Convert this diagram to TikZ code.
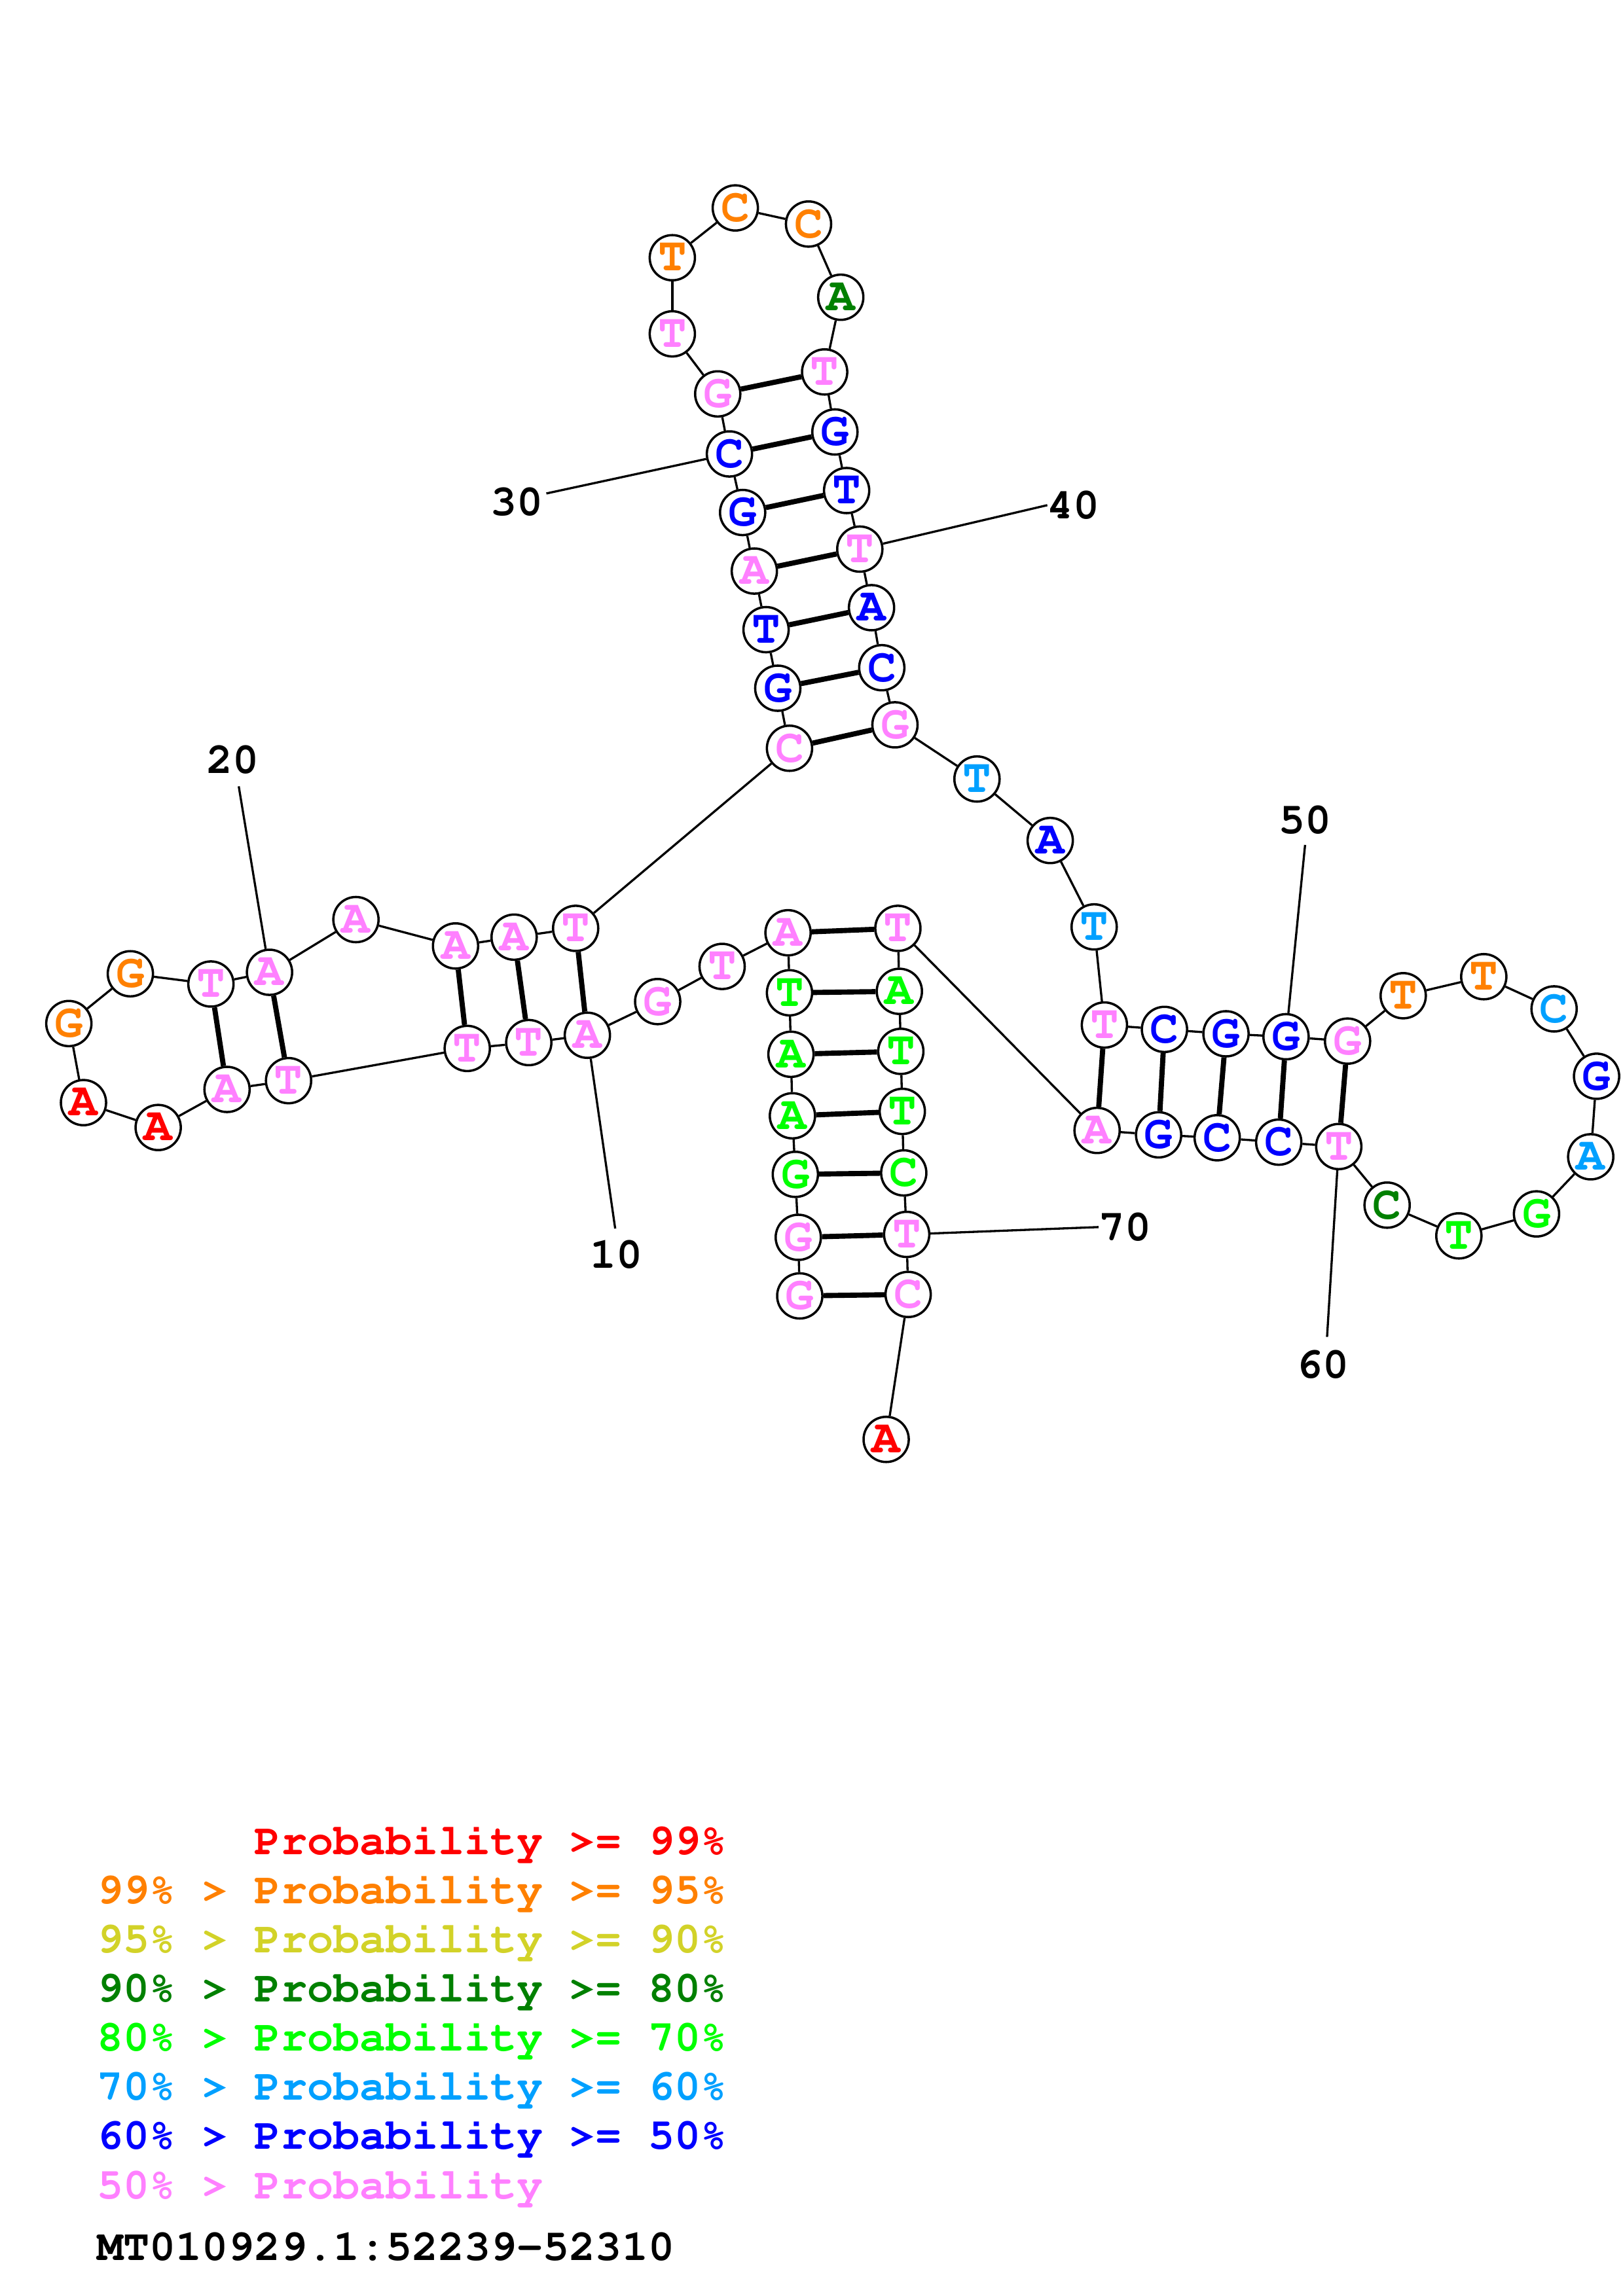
\documentclass[tikz,border=0pt]{standalone}
\usepackage[T1]{fontenc}
\newcommand\courb{\fontencoding{T1}\fontfamily{pcr}\fontseries{b}\fontshape{n}\fontsize{16.1}{19}\selectfont}
\newcommand\courn{\fontencoding{T1}\fontfamily{pcr}\fontseries{b}\fontshape{n}\fontsize{17.5}{20}\selectfont}
\definecolor{pR}{RGB}{255,0,0}
\definecolor{pO}{RGB}{255,128,0}
\definecolor{pY}{RGB}{210,210,40}
\definecolor{pD}{RGB}{0,128,0}
\definecolor{pG}{RGB}{0,255,0}
\definecolor{pS}{RGB}{0,160,255}
\definecolor{pB}{RGB}{0,0,255}
\definecolor{pP}{RGB}{255,128,255}
\tikzset{
  nt/.style={circle, draw, line width=0.85pt, fill=white, minimum size=5.85mm, inner sep=0pt, font=\courn},
  bb/.style={line width=0.8pt},
  bp/.style={line width=1.9pt},
  numlab/.style={inner sep=0pt, font=\courb},
  leg/.style={inner sep=0pt, anchor=base west, font=\courb}
}
\begin{document}
\begin{tikzpicture}[x=0.18953mm, y=-0.18953mm]
\useasboundingbox[fill=white] (0,0) rectangle (1108,1568);
\foreach \i/\x/\y/\l/\c in {
1/546/885/G/pP, 2/545/845/G/pP, 3/543/802/G/pG, 4/541/762/A/pG, 5/540/720/A/pG,
6/539/678/T/pG, 7/538/637/A/pP, 8/493/660/T/pP, 9/449/684/G/pP, 10/401/707/A/pP,
11/361/712/T/pP, 12/319/716/T/pP, 13/197/738/T/pP, 14/155/744/A/pP, 15/108/770/A/pR,
16/57/753/A/pR, 17/47/699/G/pO, 18/89/665/G/pO, 19/144/672/T/pP, 20/184/664/A/pP,
21/243/628/A/pP, 22/311/646/A/pP, 23/351/640/A/pP, 24/393/634/T/pP, 25/539/511/C/pP,
26/531/470/G/pB, 27/523/430/T/pB, 28/515/390/A/pP, 29/507/350/G/pB, 30/498/310/C/pB,
31/490/269/G/pP, 32/459/228/T/pP, 33/459/176/T/pO, 34/502/142/C/pO, 35/552/153/C/pO,
36/574/203/A/pD, 37/563/254/T/pP, 38/570/295/G/pB, 39/578/335/T/pB, 40/587/375/T/pP,
41/595/415/A/pB, 42/602/456/C/pB, 43/611/495/G/pP, 44/667/532/T/pS, 45/717/574/A/pB,
46/747/633/T/pS, 47/754/700/T/pP, 48/795/703/C/pB, 49/837/706/G/pB, 50/878/708/G/pB,
51/920/711/G/pP, 52/958/680/T/pO, 53/1013/667/T/pO, 54/1061/689/C/pS, 55/1090/735/G/pB,
56/1086/790/A/pS, 57/1049/829/G/pG, 58/996/844/T/pG, 59/947/823/C/pD, 60/914/783/T/pP,
61/873/780/C/pB, 62/831/777/C/pB, 63/791/775/G/pB, 64/749/772/A/pP, 65/613/634/T/pP,
66/614/677/A/pG, 67/615/718/T/pG, 68/616/759/T/pG, 69/617/801/C/pG, 70/619/843/T/pP,
71/620/884/C/pP, 72/605/983/A/pR}
  \node[nt, text=\c] (n\i) at (\x,\y) {\l};
% backbone
\foreach \i [evaluate=\i as \j using int(\i+1)] in {1,...,71}
  \draw[bb] (n\i) -- (n\j);
% base pairs
\foreach \a/\b in {1/71,2/70,3/69,4/68,5/67,6/66,7/65,10/24,11/23,12/22,13/20,14/19,
  25/43,26/42,27/41,28/40,29/39,30/38,31/37,47/64,48/63,49/62,50/61,51/60}
  \draw[bp] (n\a) -- (n\b);
% number labels
\coordinate (e10) at (420,839); \node[numlab] (t10) at (421,857) {10};
\coordinate (e20) at (163,537); \node[numlab] (t20) at (159,519) {20};
\coordinate (e30) at (373,337); \node[numlab] (t30) at (353,343) {30};
\coordinate (e40) at (715,345); \node[numlab] (t40) at (733,345) {40};
\coordinate (e50) at (891,577); \node[numlab] (t50) at (891,560) {50};
\coordinate (e60) at (906,913); \node[numlab] (t60) at (903,932) {60};
\coordinate (e70) at (750,838); \node[numlab] (t70) at (768,838) {70};
\foreach \k in {10,20,30,40,50,60,70}
  \draw[bb] (n\k) -- (e\k);
% legend
\node[leg, text=pR] (g1) at (173.5,1266.5) {Probability >= 99\%};
\node[leg, text=pO] (g2) at (66,1300) {99\% > Probability >= 95\%};
\node[leg, text=pY] (g3) at (66,1333.5) {95\% > Probability >= 90\%};
\node[leg, text=pD] (g4) at (66,1367) {90\% > Probability >= 80\%};
\node[leg, text=pG] (g5) at (66,1400.5) {80\% > Probability >= 70\%};
\node[leg, text=pS] (g6) at (66,1434) {70\% > Probability >= 60\%};
\node[leg, text=pB] (g7) at (66,1467.5) {60\% > Probability >= 50\%};
\node[leg, text=pP] (g8) at (66,1501.5) {50\% > Probability};
\node[leg, text=black] (g9) at (66,1543.5) {MT010929.1:52239-52310};
\end{tikzpicture}
\end{document}
